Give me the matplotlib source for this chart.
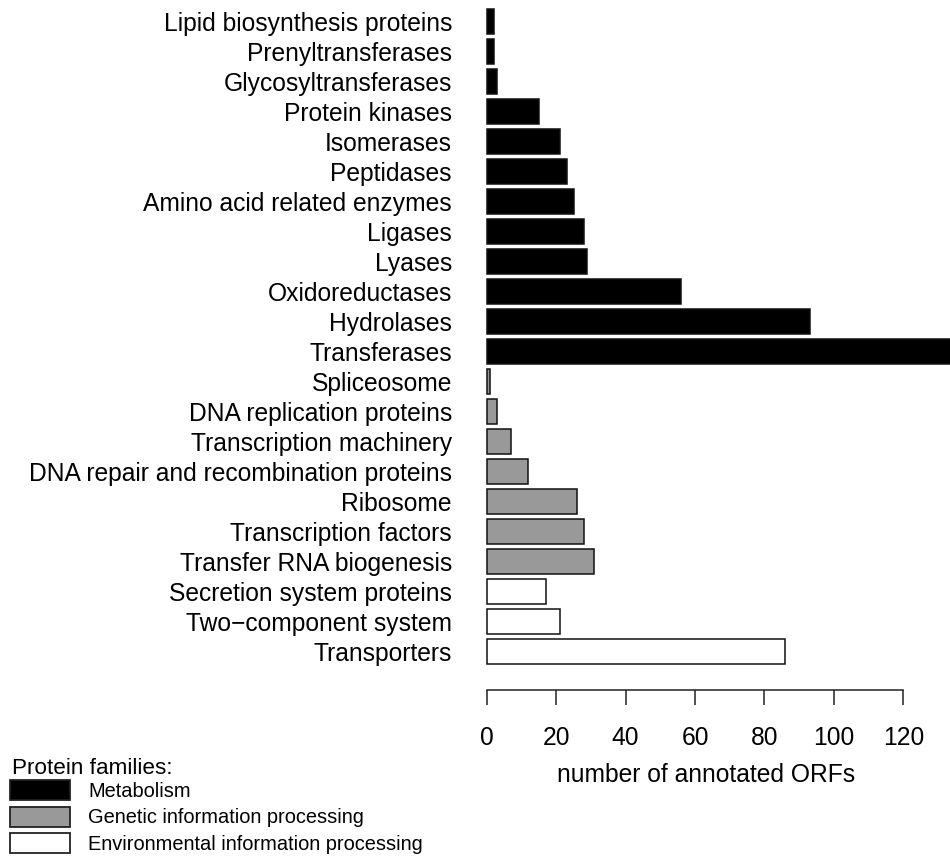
import numpy as np
import matplotlib
matplotlib.use("Agg")
import matplotlib.pyplot as plt
from matplotlib.patches import Patch

plt.rcParams['font.family'] = ['Liberation Sans', 'DejaVu Sans']

# protein families, top to bottom as in the figure
families = ['Lipid biosynthesis proteins', 'Prenyltransferases', 'Glycosyltransferases',
            'Protein kinases', 'Isomerases', 'Peptidases', 'Amino acid related enzymes',
            'Ligases', 'Lyases', 'Oxidoreductases', 'Hydrolases', 'Transferases',
            'Spliceosome', 'DNA replication proteins', 'Transcription machinery',
            'DNA repair and recombination proteins', 'Ribosome', 'Transcription factors',
            'Transfer RNA biogenesis', 'Secretion system proteins', 'Two\u2212component system',
            'Transporters']
counts = [2, 2, 3, 15, 21, 23, 25, 28, 29, 56, 93, 145,
          1, 3, 7, 12, 26, 28, 31,
          17, 21, 86]
groups = ['met'] * 12 + ['gen'] * 7 + ['env'] * 3

group_names = {'met': 'Metabolism',
               'gen': 'Genetic information processing',
               'env': 'Environmental information processing'}
group_cols = {'met': 'black', 'gen': '#999999', 'env': 'white'}

fig = plt.figure(figsize=(9.5, 8.56), dpi=100)
ax = fig.add_axes([486.7 / 950, 166 / 856, 1 - 486.7 / 950, 1 - 166 / 856])

ypos = np.arange(len(families))
cols = [group_cols[g] for g in groups]
ax.barh(ypos, counts, height=0.84, color=cols, edgecolor='#111111',
        linewidth=1.1, clip_on=False)

ax.set_xlim(0, (950 - 486.7) / 3.472)
ax.set_ylim(22.28, -0.717)

for s in ['top', 'right', 'left']:
    ax.spines[s].set_visible(False)
ax.spines['bottom'].set_bounds(0, 120)
ax.spines['bottom'].set_linewidth(1.1)
ax.spines['bottom'].set_color('#222222')

ax.set_xticks(np.arange(0, 121, 20))
ax.tick_params(axis='x', direction='out', length=10.8, width=1.1, color='#222222',
               labelsize=17.7, pad=15)
ax.set_yticks(ypos)
ax.set_yticklabels(families)
ax.tick_params(axis='y', length=0, labelsize=17.7, pad=25)

fig.text(706 / 950, 74.3 / 856, 'number of annotated ORFs', ha='center',
         va='baseline', fontsize=17.7)

# legend, R style: title on its own line, boxes below
fig.text(12 / 950, 1 - 774 / 856, 'Protein families:', ha='left',
         va='baseline', fontsize=16.2)
handles = [Patch(facecolor=group_cols[k], edgecolor='#222222', linewidth=1.3,
                 label=group_names[k]) for k in ['met', 'gen', 'env']]
leg = fig.legend(handles=handles, loc='upper left',
                 bbox_to_anchor=(10 / 950, 1 - 780 / 856), frameon=False,
                 fontsize=14.4, handlelength=3.0,
                 handleheight=1.15, handletextpad=0.9, labelspacing=0.3,
                 borderpad=0, borderaxespad=0)

fig.savefig('out.png', dpi=100)
